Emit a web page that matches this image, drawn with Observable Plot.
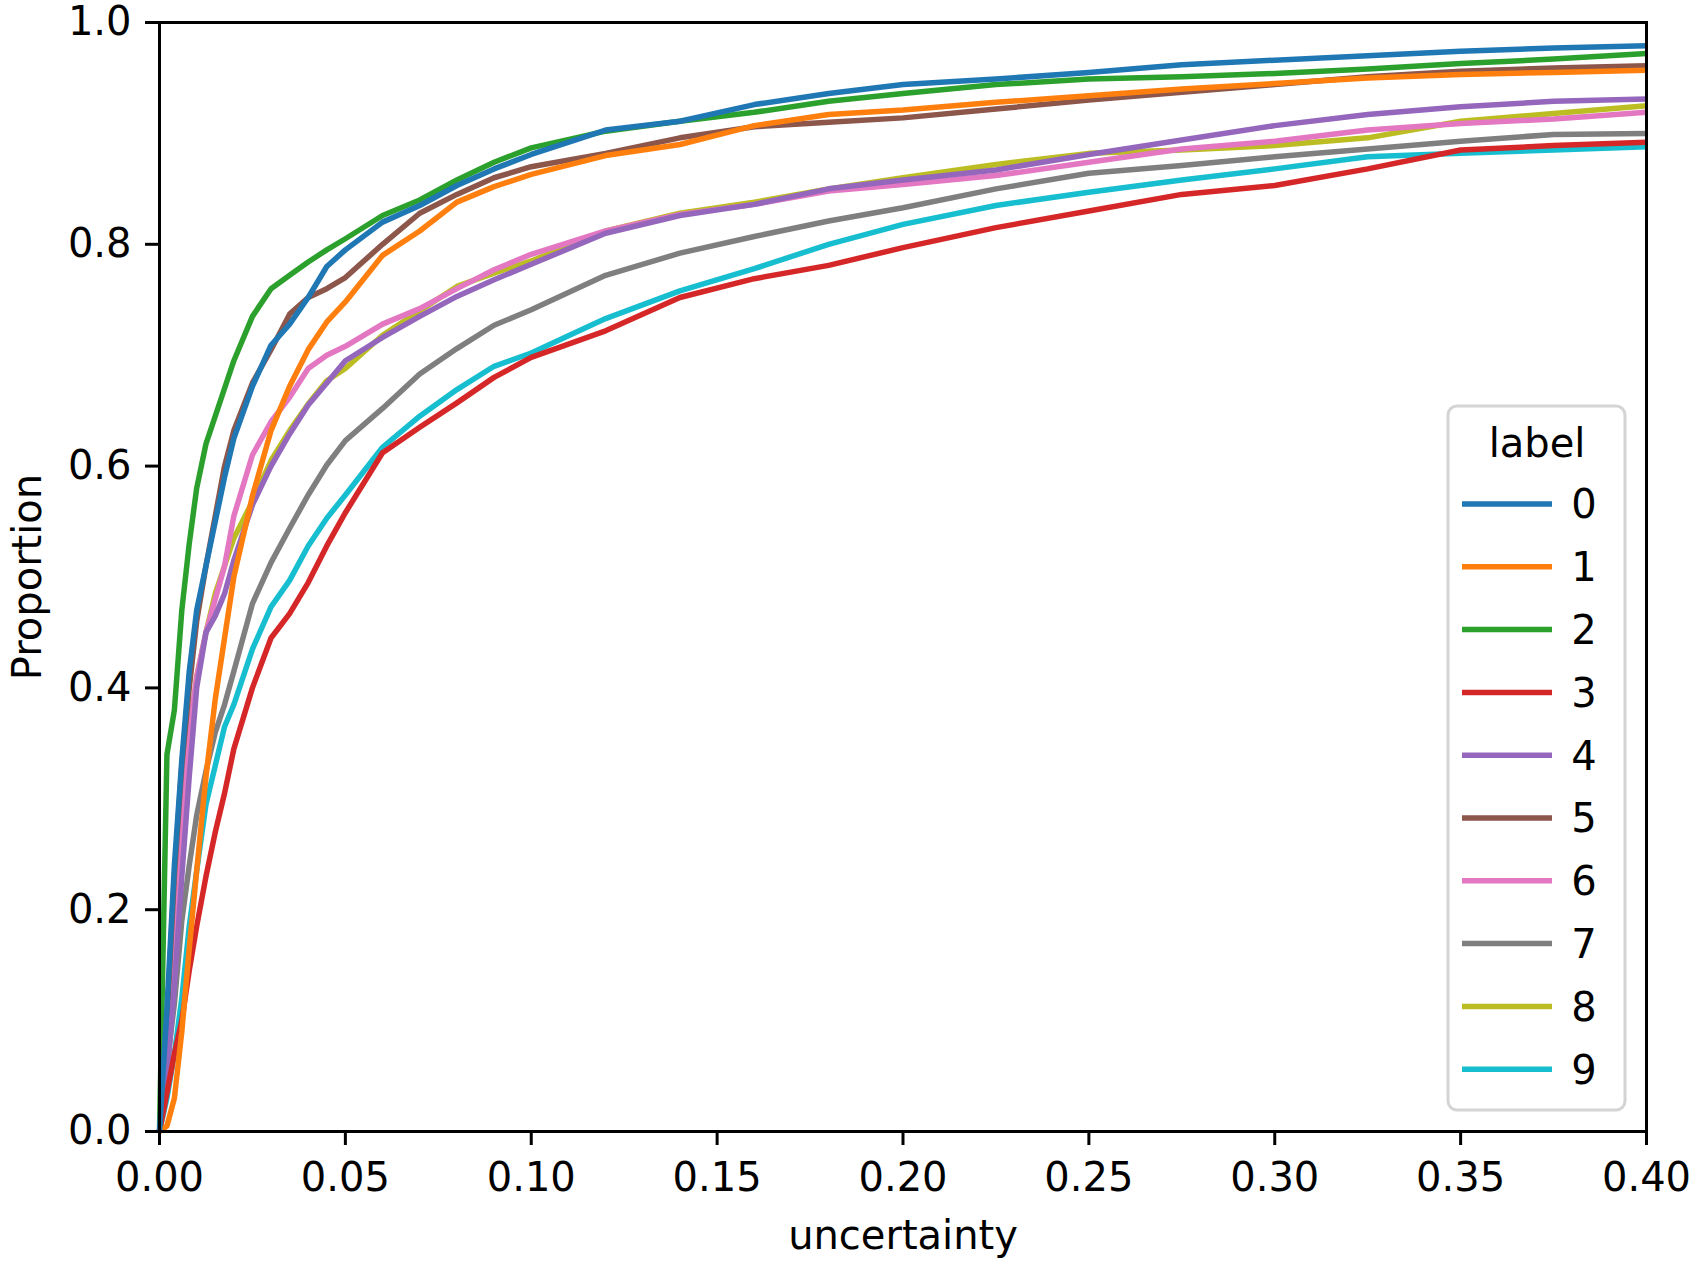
<!DOCTYPE html>
<html>
<head>
<meta charset="utf-8">
<script src="https://cdn.jsdelivr.net/npm/d3@7"></script>
<script src="https://cdn.jsdelivr.net/npm/@observablehq/plot@0.6"></script>
<style>
  html, body { margin: 0; padding: 0; background: #fff; }
  #chart { width: 1702px; height: 1267px; }
  svg { font-family: "DejaVu Sans", sans-serif; }
</style>
</head>
<body>
<div id="chart"></div>
<script>
// ---- data ----
const labels = ["0","1","2","3","4","5","6","7","8","9"];
const colors = ["#1f77b4","#ff7f0e","#2ca02c","#d62728","#9467bd","#8c564b","#e377c2","#7f7f7f","#bcbd22","#17becf"];
const xTicks = [0, 0.05, 0.10, 0.15, 0.20, 0.25, 0.30, 0.35, 0.40];
const yTicks = [0, 0.2, 0.4, 0.6, 0.8, 1.0];

const uncertainty = [0, 0.002, 0.004, 0.006, 0.008, 0.01, 0.0125, 0.015, 0.0175, 0.02, 0.025, 0.03, 0.035, 0.04, 0.045, 0.05, 0.06, 0.07, 0.08, 0.09, 0.1, 0.12, 0.14, 0.16, 0.18, 0.2, 0.225, 0.25, 0.275, 0.3, 0.325, 0.35, 0.375, 0.4];

const label0 = [0, 0.11, 0.24, 0.335, 0.415, 0.47, 0.51, 0.55, 0.59, 0.625, 0.672, 0.709, 0.728, 0.752, 0.78, 0.795, 0.82, 0.835, 0.853, 0.868, 0.881, 0.903, 0.911, 0.926, 0.936, 0.944, 0.949, 0.955, 0.962, 0.966, 0.970, 0.974, 0.977, 0.979];
const label1 = [0, 0.005, 0.03, 0.09, 0.165, 0.235, 0.32, 0.39, 0.445, 0.50, 0.573, 0.632, 0.672, 0.705, 0.73, 0.748, 0.79, 0.812, 0.838, 0.852, 0.863, 0.88, 0.890, 0.907, 0.917, 0.921, 0.928, 0.934, 0.940, 0.945, 0.950, 0.953, 0.955, 0.957];
const label2 = [0, 0.34, 0.38, 0.47, 0.53, 0.58, 0.62, 0.645, 0.67, 0.695, 0.735, 0.76, 0.772, 0.784, 0.795, 0.805, 0.826, 0.84, 0.858, 0.874, 0.887, 0.902, 0.911, 0.919, 0.929, 0.936, 0.944, 0.949, 0.951, 0.954, 0.958, 0.963, 0.967, 0.972];
const label3 = [0, 0.035, 0.07, 0.10, 0.145, 0.185, 0.23, 0.27, 0.305, 0.345, 0.40, 0.445, 0.467, 0.495, 0.528, 0.558, 0.612, 0.635, 0.657, 0.68, 0.698, 0.722, 0.752, 0.769, 0.781, 0.797, 0.815, 0.83, 0.845, 0.853, 0.868, 0.885, 0.889, 0.892];
const label4 = [0, 0.05, 0.13, 0.23, 0.32, 0.40, 0.45, 0.465, 0.485, 0.515, 0.565, 0.60, 0.629, 0.655, 0.675, 0.695, 0.716, 0.735, 0.753, 0.768, 0.782, 0.81, 0.826, 0.836, 0.850, 0.858, 0.867, 0.881, 0.894, 0.907, 0.917, 0.924, 0.929, 0.931];
const label5 = [0, 0.10, 0.23, 0.33, 0.40, 0.46, 0.51, 0.555, 0.60, 0.632, 0.675, 0.705, 0.737, 0.752, 0.76, 0.77, 0.80, 0.828, 0.845, 0.860, 0.870, 0.882, 0.896, 0.906, 0.910, 0.914, 0.922, 0.930, 0.937, 0.944, 0.951, 0.956, 0.959, 0.961];
const label6 = [0, 0.06, 0.16, 0.27, 0.36, 0.41, 0.45, 0.48, 0.51, 0.555, 0.61, 0.64, 0.662, 0.688, 0.70, 0.708, 0.728, 0.742, 0.76, 0.777, 0.791, 0.812, 0.827, 0.836, 0.848, 0.854, 0.862, 0.874, 0.886, 0.893, 0.903, 0.909, 0.913, 0.919];
const label7 = [0, 0.06, 0.115, 0.19, 0.24, 0.285, 0.325, 0.36, 0.385, 0.415, 0.476, 0.513, 0.544, 0.574, 0.601, 0.623, 0.652, 0.683, 0.706, 0.727, 0.741, 0.772, 0.792, 0.807, 0.821, 0.833, 0.850, 0.864, 0.871, 0.879, 0.886, 0.893, 0.899, 0.900];
const label8 = [0, 0.05, 0.14, 0.25, 0.35, 0.41, 0.45, 0.485, 0.51, 0.535, 0.568, 0.605, 0.632, 0.656, 0.677, 0.688, 0.718, 0.74, 0.762, 0.774, 0.785, 0.812, 0.828, 0.838, 0.850, 0.860, 0.872, 0.882, 0.885, 0.889, 0.896, 0.911, 0.918, 0.925];
const label9 = [0, 0.03, 0.07, 0.12, 0.185, 0.235, 0.295, 0.33, 0.365, 0.385, 0.435, 0.473, 0.497, 0.528, 0.553, 0.574, 0.617, 0.645, 0.669, 0.690, 0.702, 0.733, 0.758, 0.778, 0.800, 0.818, 0.835, 0.847, 0.858, 0.868, 0.879, 0.882, 0.885, 0.888];

const series = [label0, label1, label2, label3, label4, label5, label6, label7, label8, label9];

// long-form table; draw 9 first so 0 ends on top
const rows = [];
for (let s = series.length - 1; s >= 0; s--) {
  series[s].forEach((v, i) => rows.push({label: labels[s], uncertainty: uncertainty[i], proportion: v}));
}

const FONT = 40;

const chart = Plot.plot({
  width: 1702,
  height: 1267,
  marginLeft: 159,
  marginRight: 56,
  marginTop: 22,
  marginBottom: 136,
  style: {fontFamily: "DejaVu Sans, sans-serif", color: "black", background: "white", overflow: "visible"},
  x: {domain: [0, 0.4], label: null},
  y: {domain: [0, 1], label: null},
  color: {domain: labels, range: colors},
  marks: [
    Plot.line(rows, {x: "uncertainty", y: "proportion", z: "label", stroke: "label", strokeWidth: 5.5, strokeLinejoin: "round", strokeLinecap: "butt"}),
    Plot.frame({stroke: "black", strokeWidth: 3}),
    Plot.axisX({ticks: xTicks, tickFormat: d3.format(".2f"), tickSize: 14, tickPadding: 17, strokeWidth: 3, fontSize: FONT, label: null}),
    Plot.axisY({ticks: yTicks, tickFormat: d3.format(".1f"), tickSize: 14, tickPadding: 14, strokeWidth: 3, fontSize: FONT, label: null}),
    Plot.text(["uncertainty"], {frameAnchor: "bottom", lineAnchor: "middle", textAnchor: "middle", dy: 105, fontSize: FONT, fill: "black"}),
    Plot.text(["Proportion"], {frameAnchor: "left", lineAnchor: "middle", textAnchor: "middle", dx: -131, rotate: -90, fontSize: FONT, fill: "black"})
  ]
});

document.getElementById("chart").appendChild(chart);

// ---- legend (matplotlib style, lower right inside axes) ----
const svg = d3.select(chart);
const lg = svg.append("g").attr("font-family", "DejaVu Sans, sans-serif").attr("font-size", FONT);
lg.append("rect")
  .attr("x", 1448).attr("y", 406).attr("width", 177).attr("height", 704)
  .attr("rx", 9).attr("fill", "white").attr("fill-opacity", 0.8)
  .attr("stroke", "#d4d4d4").attr("stroke-width", 3);
lg.append("text").attr("x", 1537).attr("y", 457).attr("text-anchor", "middle").attr("fill", "black").text("label");
labels.forEach((l, i) => {
  const y = 504 + i * 62.8;
  lg.append("line").attr("x1", 1462).attr("x2", 1552).attr("y1", y).attr("y2", y)
    .attr("stroke", colors[i]).attr("stroke-width", 5.5);
  lg.append("text").attr("x", 1584).attr("y", y).attr("dy", "0.36em").attr("fill", "black").text(l);
});
</script>
</body>
</html>
